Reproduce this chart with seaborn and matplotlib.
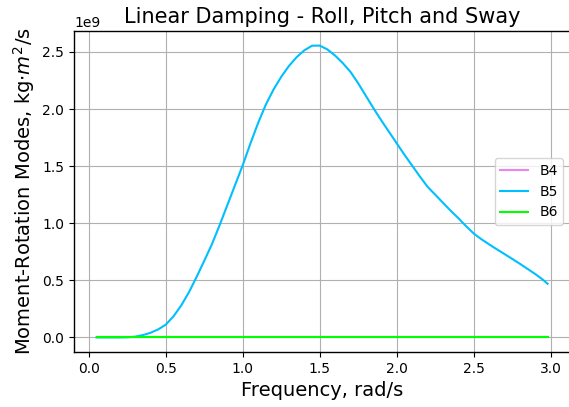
import matplotlib
matplotlib.use("Agg")
import matplotlib.pyplot as plt
import seaborn as sns
import numpy as np
import pandas as pd

# Frequency grid, rad/s
freq = [0.05, 0.10, 0.15, 0.20, 0.25, 0.30, 0.35, 0.40, 0.45, 0.50,
        0.55, 0.60, 0.65, 0.70, 0.75, 0.80, 0.85, 0.90, 0.95, 1.00,
        1.05, 1.10, 1.15, 1.20, 1.25, 1.30, 1.35, 1.40, 1.45, 1.50,
        1.55, 1.60, 1.65, 1.70, 1.75, 1.80, 1.85, 1.90, 1.95, 2.00,
        2.05, 2.10, 2.15, 2.20, 2.25, 2.30, 2.35, 2.40, 2.45, 2.50,
        2.55, 2.60, 2.65, 2.70, 2.75, 2.80, 2.85, 2.90, 2.95, 2.98]

# Pitch damping B5 (kg.m^2/s)
b5 = [0.0, 0.0, 0.0, 0.0, 0.001e9, 0.006e9, 0.020e9, 0.040e9, 0.070e9, 0.112e9,
      0.185e9, 0.280e9, 0.395e9, 0.530e9, 0.672e9, 0.818e9, 0.985e9, 1.160e9, 1.335e9, 1.510e9,
      1.700e9, 1.880e9, 2.040e9, 2.172e9, 2.283e9, 2.378e9, 2.455e9, 2.515e9, 2.555e9, 2.556e9,
      2.522e9, 2.468e9, 2.402e9, 2.325e9, 2.225e9, 2.115e9, 2.005e9, 1.900e9, 1.800e9, 1.700e9,
      1.600e9, 1.505e9, 1.410e9, 1.320e9, 1.250e9, 1.180e9, 1.110e9, 1.045e9, 0.975e9, 0.910e9,
      0.860e9, 0.815e9, 0.772e9, 0.730e9, 0.688e9, 0.645e9, 0.600e9, 0.555e9, 0.505e9, 0.470e9]

# Roll B4 and sway-coupled B6 are negligible on this scale
b4 = [0.0] * len(freq)
b6 = [0.0] * len(freq)

series_names = ["B4", "B5", "B6"]
series_colors = ["violet", "deepskyblue", "lime"]

df = pd.concat([
    pd.DataFrame({"freq": freq, "value": vals, "mode": name})
    for name, vals in zip(series_names, [b4, b5, b6])
], ignore_index=True)

fig = plt.figure(figsize=(5.69, 4.07), dpi=100)
ax = fig.add_axes([74 / 569, 1 - 352 / 407, 1.002 - 74 / 569, (352 - 31) / 407])

sns.lineplot(data=df, x="freq", y="value", hue="mode",
             palette=dict(zip(series_names, series_colors)),
             linewidth=1.5, ax=ax)

for side in ["top", "left", "bottom", "right"]:
    ax.spines[side].set_visible(True)
    ax.spines[side].set_color("black")
    ax.spines[side].set_linewidth(1.0)

ax.grid(True)
ax.set_title("Linear Damping - Roll, Pitch and Sway", fontsize=15)
ax.set_xlabel("Frequency, rad/s", fontsize=14)
ax.set_ylabel(r"Moment-Rotation Modes, kg$\cdot m^2$/s", fontsize=14)
ax.tick_params(labelsize=10)
ax.legend(loc="center right", fontsize=10)

fig.savefig("out.png", dpi=100)
